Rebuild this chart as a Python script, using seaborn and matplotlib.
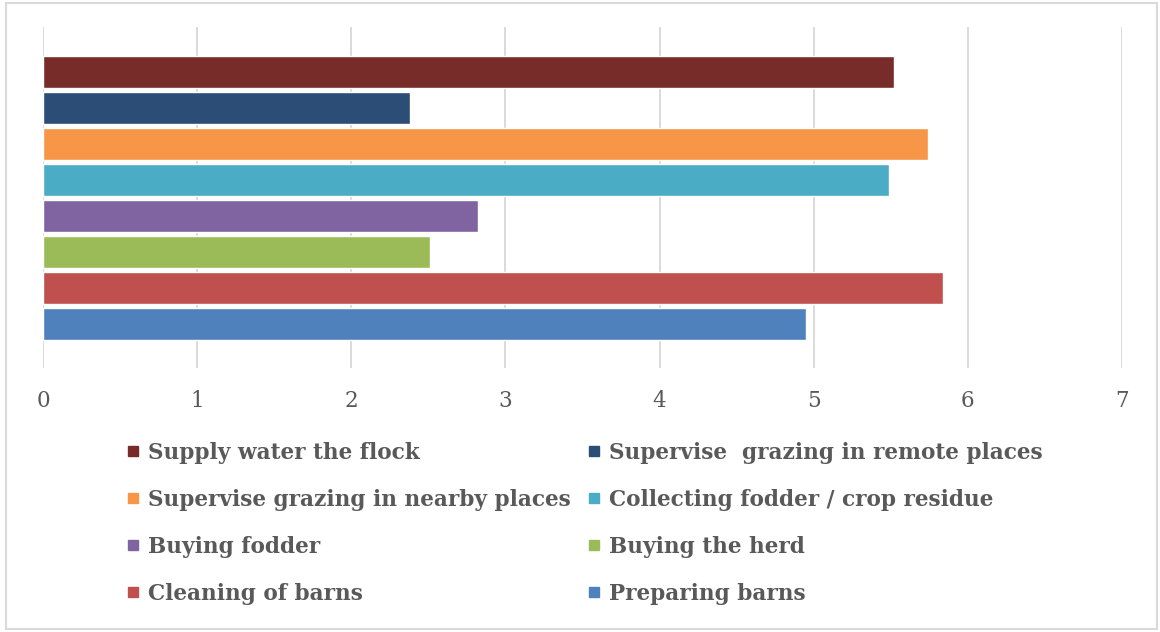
import matplotlib.pyplot as plt
import seaborn as sns
import pandas as pd
from matplotlib.lines import Line2D
from matplotlib.patches import Rectangle

activities = ['Supply water the flock', 'Supervise  grazing in remote places',
              'Supervise grazing in nearby places', 'Collecting fodder / crop residue',
              'Buying fodder', 'Buying the herd', 'Cleaning of barns', 'Preparing barns']
values = [5.52, 2.38, 5.74, 5.49, 2.82, 2.51, 5.84, 4.95]
colors = ['#772C2A', '#2C4D75', '#F79646', '#4BACC6',
          '#8064A2', '#9BBB59', '#C0504D', '#4F81BD']
x_ticks = [0, 1, 2, 3, 4, 5, 6, 7]

df = pd.DataFrame({'activity': activities, 'value': values})

sns.set_style('white')
plt.rcParams['font.family'] = ['DejaVu Serif']
text_color = '#595959'

fig = plt.figure(figsize=(11.6, 6.32), dpi=100)
ax = fig.add_axes([43 / 1160, 1 - 368 / 632, (1122 - 43) / 1160, (368 - 27) / 632])

sns.barplot(data=df, y='activity', x='value', hue='activity',
            palette=dict(zip(activities, colors)), dodge=False, saturation=1,
            width=0.89, legend=False, ax=ax, zorder=3)

ax.set_xlim(0, 7)
ax.set_ylim(7 + 1.22, -1.25)
ax.set_xticks(x_ticks)
ax.set_xticklabels([str(t) for t in x_ticks], color=text_color, fontsize=15.5)
ax.set_yticks([])
ax.set_xlabel('')
ax.set_ylabel('')
ax.tick_params(axis='x', length=0, pad=16)
for s in ax.spines.values():
    s.set_visible(False)
ax.grid(axis='x', color='#DADADA', linewidth=1.4, zorder=0)
ax.set_axisbelow(True)

# legend row-wise like the original: reorder into columns
order = [0, 2, 4, 6, 1, 3, 5, 7]
handles = [Line2D([], [], marker='s', linestyle='none', markersize=6.5,
                  markerfacecolor=colors[i], markeredgecolor=colors[i]) for i in order]
labels = [activities[i] for i in order]
fig.legend(handles, labels, loc='center', bbox_to_anchor=(0.5045, 0.172), ncol=2,
           frameon=False, prop={'weight': 'bold', 'size': 15.6},
           labelcolor=text_color, handlelength=0.5, handletextpad=0.45,
           columnspacing=0.8, labelspacing=1.15, borderpad=0)

fig.patches.append(Rectangle((6 / 1160, 3 / 632), 1151 / 1160, 626 / 632,
                             transform=fig.transFigure, fill=False,
                             edgecolor='#D9D9D9', linewidth=1.5))

plt.savefig('out.png', dpi=100)
